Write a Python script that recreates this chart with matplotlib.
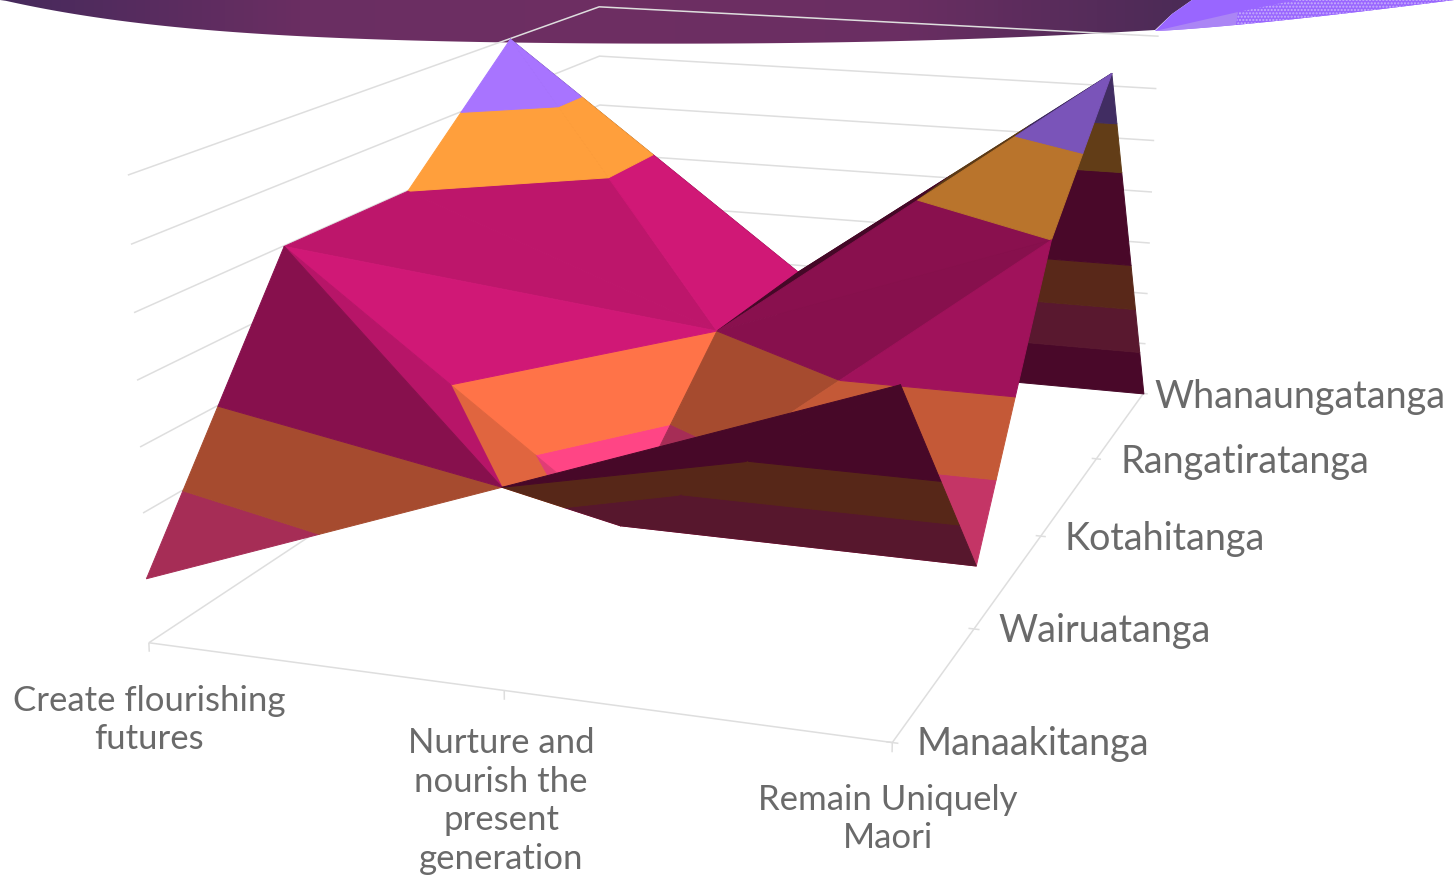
import numpy as np
import matplotlib
matplotlib.use('Agg')
import matplotlib.pyplot as plt
from matplotlib.colors import LinearSegmentedColormap
from matplotlib.patches import Polygon
from mpl_toolkits.mplot3d.art3d import Poly3DCollection

W, H = 1454, 880

# ---- data ----
x_labels = ['Create flourishing\nfutures', 'Nurture and\nnourish the\npresent\ngeneration', 'Remain Uniquely\nMaori']
y_labels = ['Manaakitanga', 'Wairuatanga', 'Kotahitanga', 'Rangatiratanga', 'Whanaungatanga']
manaakitanga = [1, 3, 5]
wairuatanga = [5, 1, 1]
kotahitanga = [5, 3, 5]
rangatiratanga = [7, 3, 7]
whanaungatanga = [3, 0, 0]
levels = list(range(8))

Z = np.array([manaakitanga, wairuatanga, kotahitanga, rangatiratanga, whanaungatanga], float)
zmax = levels[-1]

# band base colours: RGB and the brightest shade factor that band reaches
MAGENTA = ((208, 24, 118), 1.0)
PINK = ((255, 69, 133), 1.0)
CORAL = ((255, 115, 72), 1.0)
ORANGE = ((280, 175, 66), 0.91)
PURPLE = ((185, 128, 280), 0.91)
band_base = [MAGENTA, PINK, CORAL, MAGENTA, MAGENTA, ORANGE, PURPLE]

# surface facets, back to front: three (row, column) corners and a lighting factor
facets = [
    ((4, 0), (4, 1), (3, 0), 0.35), ((3, 0), (3, 1), (4, 1), 0.35),
    ((4, 1), (3, 2), (4, 2), 0.35), ((3, 1), (3, 2), (4, 1), 0.35),
    ((2, 0), (3, 0), (2, 1), 0.91), ((3, 0), (3, 1), (2, 1), 1.00),
    ((2, 1), (3, 1), (3, 2), 0.33), ((2, 1), (2, 2), (3, 2), 0.66),
    ((1, 0), (2, 0), (2, 1), 0.91), ((1, 0), (1, 1), (2, 1), 1.00),
    ((1, 1), (2, 1), (2, 2), 0.65), ((1, 1), (1, 2), (2, 2), 0.77),
    ((0, 1), (1, 0), (1, 1), 0.88), ((0, 0), (0, 1), (1, 0), 0.65),
    ((0, 1), (1, 1), (0, 2), 0.34), ((1, 1), (1, 2), (0, 2), 0.34),
]


def clip_band(tri, lo, hi):
    """Clip a 3-D polygon to lo <= z <= hi."""
    def clip(poly, keep, level):
        out = []
        for a, b in zip(poly, poly[1:] + poly[:1]):
            ka, kb = keep(a[2]), keep(b[2])
            if ka:
                out.append(a)
            if ka != kb:
                t = (level - a[2]) / (b[2] - a[2])
                out.append(tuple(a[i] + t * (b[i] - a[i]) for i in range(3)))
        return out
    poly = clip(list(tri), lambda z: z >= lo, lo)
    if poly:
        poly = clip(poly, lambda z: z <= hi, hi)
    return poly


# neighbouring levels of one colour form a single band
bands = []
for k, base in enumerate(band_base):
    if bands and bands[-1][2] is base:
        bands[-1][1] = levels[k + 1]
    else:
        bands.append([levels[k], levels[k + 1], base])

fig = plt.figure(figsize=(W / 100, H / 100), dpi=100, facecolor='white')

# ---- slide background and labels ----
bg = fig.add_axes([0, 0, 1, 1], zorder=0)
bg.axis('off')

cx_pts = np.array([0, 30, 110, 250, 400, 510, 650, 800, 1000, 1120, 1155])
cy_pts = np.array([0, 5, 20, 33, 40, 42.5, 44, 42.5, 38, 32, 30])
xs = np.linspace(0, 1155, 200)
ys = np.polyval(np.polyfit(cx_pts, cy_pts, 5), xs).clip(0)
banner = Polygon(np.r_[np.c_[xs, ys], [[1172, 14], [1192, 0]]], closed=True, fc='none', ec='none',
                 transform=bg.transData)
bg.add_patch(banner)
cmap = LinearSegmentedColormap.from_list('b', ['#462A5C', '#6A2E62', '#6E2F63', '#6A2E62', '#4A2B56'])
im = bg.imshow(np.linspace(0, 1, 256)[None, :], extent=(0, 1200, 50, 0), cmap=cmap, aspect='auto', zorder=1)
im.set_clip_path(banner)
bg.set_xlim(0, W)
bg.set_ylim(H, 0)

lx = np.linspace(1155, 1454, 60)
ly = 31 - 31 * ((lx - 1155) / 299) ** 1.25
low = np.c_[lx, ly]
bg.add_patch(Polygon(np.r_[[[1192, 0], [1172, 14]], low, [[1454, 0]]], fc='#9966FF', ec='none', zorder=2))
bg.add_patch(Polygon(np.r_[[[1155, 31], [1238, 12]], low[lx <= 1238][::-1]], fc='#AB85F5', ec='none', zorder=3))
bg.add_patch(Polygon(np.r_[[[1238, 12], [1296, 0], [1454, 0]], low[lx >= 1236][::-1]],
                     fc='#9966FF', ec='#C9B0FB', hatch='.....', lw=0, zorder=3))

x_font = dict(family='Lato', fontsize=25.0, color='#6A6A6A', linespacing=1.25)
y_font = dict(family='Lato', fontsize=27.2, color='#6A6A6A')
x_label_pos = [(149, 720), (501, 801), (888, 819)]
y_label_pos = [(916, 744), (998, 631), (1065, 539), (1120, 462), (1154, 397)]
for s, (px, py) in zip(x_labels, x_label_pos):
    bg.text(px, py, s, ha='center', va='center', multialignment='center', **x_font)
for s, (px, py) in zip(y_labels, y_label_pos):
    bg.text(px, py, s, ha='left', va='center', **y_font)

# ---- chart ----
L, left, top = 1318.22, 39.75, -339.60
ax = fig.add_axes([left / W, 1 - (top + L) / H, L / W, L / H], projection='3d', zorder=1)
ax.patch.set_alpha(0)
ax.set_axis_off()
ax.computed_zorder = False
ax.view_init(elev=13.7809, azim=-71.3510, roll=-0.3154)
ax.set_proj_type('persp', focal_length=0.39780)
ax.set_box_aspect((1.61522, 2.64516, 1))
nx, ny = len(x_labels), len(y_labels)
ax.set_xlim(0, nx - 1, view_margin=0)
ax.set_ylim(0, ny - 1, view_margin=0)
ax.set_zlim(0, zmax, view_margin=0)

GRID = dict(color='#DEDEDE', lw=1.1, solid_capstyle='butt')
for z in levels:
    ax.plot([0, 0, nx - 1], [0, ny - 1, ny - 1], [z, z, z], zorder=1, **GRID)
ax.plot([0, nx - 1, nx - 1], [0, 0, ny - 1], [0, 0, 0], zorder=1, **GRID)
for i in range(nx):
    ax.plot([i, i], [0, 0], [0, -0.14], zorder=1, **GRID)
for j in range(ny):
    ax.plot([nx - 1 - 0.015, nx - 1 + 0.015], [j, j], [0, 0], zorder=1, **GRID)

order = 10
for a, b, c, shade in facets:
    tri = [(p[1], p[0], Z[p]) for p in (a, b, c)]
    for lo, hi, (rgb, cap) in bands:
        poly = clip_band(tri, lo, hi)
        if len(poly) < 3 or np.ptp([v[2] for v in poly]) < 1e-9:
            continue
        col = tuple(np.clip(np.array(rgb) * min(shade, cap) / 255, 0, 1))
        ax.add_collection3d(Poly3DCollection([poly], facecolors=[col], edgecolors=[col],
                                             linewidths=0.7, zorder=order))
        order += 1

fig.savefig('out.png', dpi=100)
